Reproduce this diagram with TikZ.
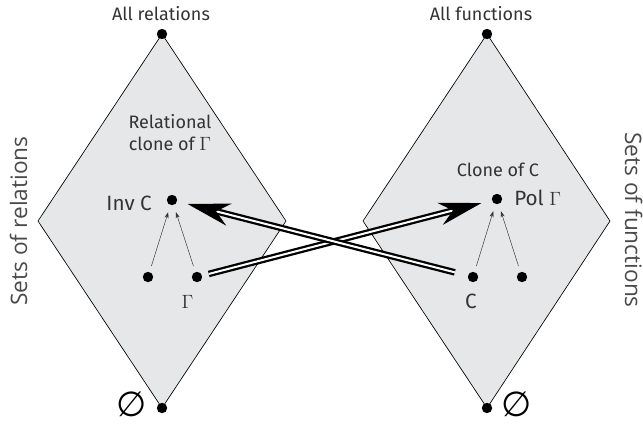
\documentclass[tikz,border=0pt]{standalone}
\usepackage{fontspec}
\setmainfont{Fira Sans}
\newfontfamily\sidefont{Open Sans}
\newfontfamily\symfont{DejaVu Sans}
\usetikzlibrary{arrows.meta,positioning}
\definecolor{latgray}{HTML}{E6E7E8}
\definecolor{latink}{HTML}{333333}
\definecolor{latside}{HTML}{4A4A4A}

\begin{document}
\begin{tikzpicture}[x=0.75pt,y=-0.75pt,
  vertex/.style={circle, fill=black, inner sep=0pt, minimum size=7.8pt},
  lattice/.style={draw=black, line width=0.5pt, fill=latgray},
  tag/.style={font=\fontsize{13.5}{16.5}\selectfont, text=latink, inner sep=0pt, align=center},
  bigtag/.style={font=\fontsize{15.5}{18}\selectfont, text=latink, inner sep=0pt},
  sidetag/.style={font=\sidefont\fontsize{17}{20}\selectfont, text=latside, inner sep=0pt},
  emptytag/.style={font=\symfont\fontsize{26}{28}\selectfont, text=black, inner sep=0pt},
  order/.style={-{Stealth[length=4.5pt,width=3pt]}, line width=0.35pt, draw=latink, shorten <=4.5pt, shorten >=5.5pt},
  galois/.style={-{Stealth[length=32pt,width=17pt,inset=10pt]}, double=white, double distance=1.5pt, line width=1.7pt},
]
  \useasboundingbox (0,0) rectangle (643,426);

  % the two lattices
  \path[lattice] (162,34) -- (286,221) -- (162,408) -- (38,221) -- cycle;
  \path[lattice] (487,34) -- (610,221) -- (487,408) -- (363,221) -- cycle;

  % relations side
  \node[vertex] (allrel) at (162,34) {};
  \node[vertex] (norel) at (162,408) {};
  \node[vertex] (inv) at (172,200) {};
  \node[vertex] (rel1) at (148,277) {};
  \node[vertex] (gam) at (197,277) {};

  % functions side
  \node[vertex] (allfun) at (487,34) {};
  \node[vertex] (nofun) at (487,408) {};
  \node[vertex] (pol) at (497,199) {};
  \node[vertex] (cee) at (473,277) {};
  \node[vertex] (fun1) at (522,277) {};

  \node[tag, anchor=base] at (161,20.5) {All relations};
  \node[tag, anchor=base] at (481,20.5) {All functions};
  \node[tag, anchor=base] at (170,150.5) {Relational\\clone of $\Gamma$};
  \node[tag, anchor=base] at (498,176.5) {Clone of C};
  \node[bigtag, anchor=base east] at (152,210) {Inv C};
  \node[bigtag, anchor=base west] at (514,205) {Pol $\Gamma$};
  \node[bigtag, anchor=base] at (187.5,308) {$\Gamma$};
  \node[bigtag, anchor=base] at (471,308) {C};
  \node[emptytag] at (132,404) {∅};
  \node[emptytag] at (517,404) {∅};

  \node[sidetag, rotate=90, anchor=base] at (27,221) {Sets of relations};
  \node[sidetag, rotate=-90, anchor=base] at (625,220) {Sets of functions};

  \draw[order] (rel1) -- (inv);
  \draw[order] (gam) -- (inv);
  \draw[order] (cee) -- (pol);
  \draw[order] (fun1) -- (pol);

  \draw[galois, shorten <=5pt, shorten >=8pt] (gam) -- (pol);
  \draw[galois, shorten <=10pt, shorten >=8pt] (cee) -- (inv);
\end{tikzpicture}
\end{document}
